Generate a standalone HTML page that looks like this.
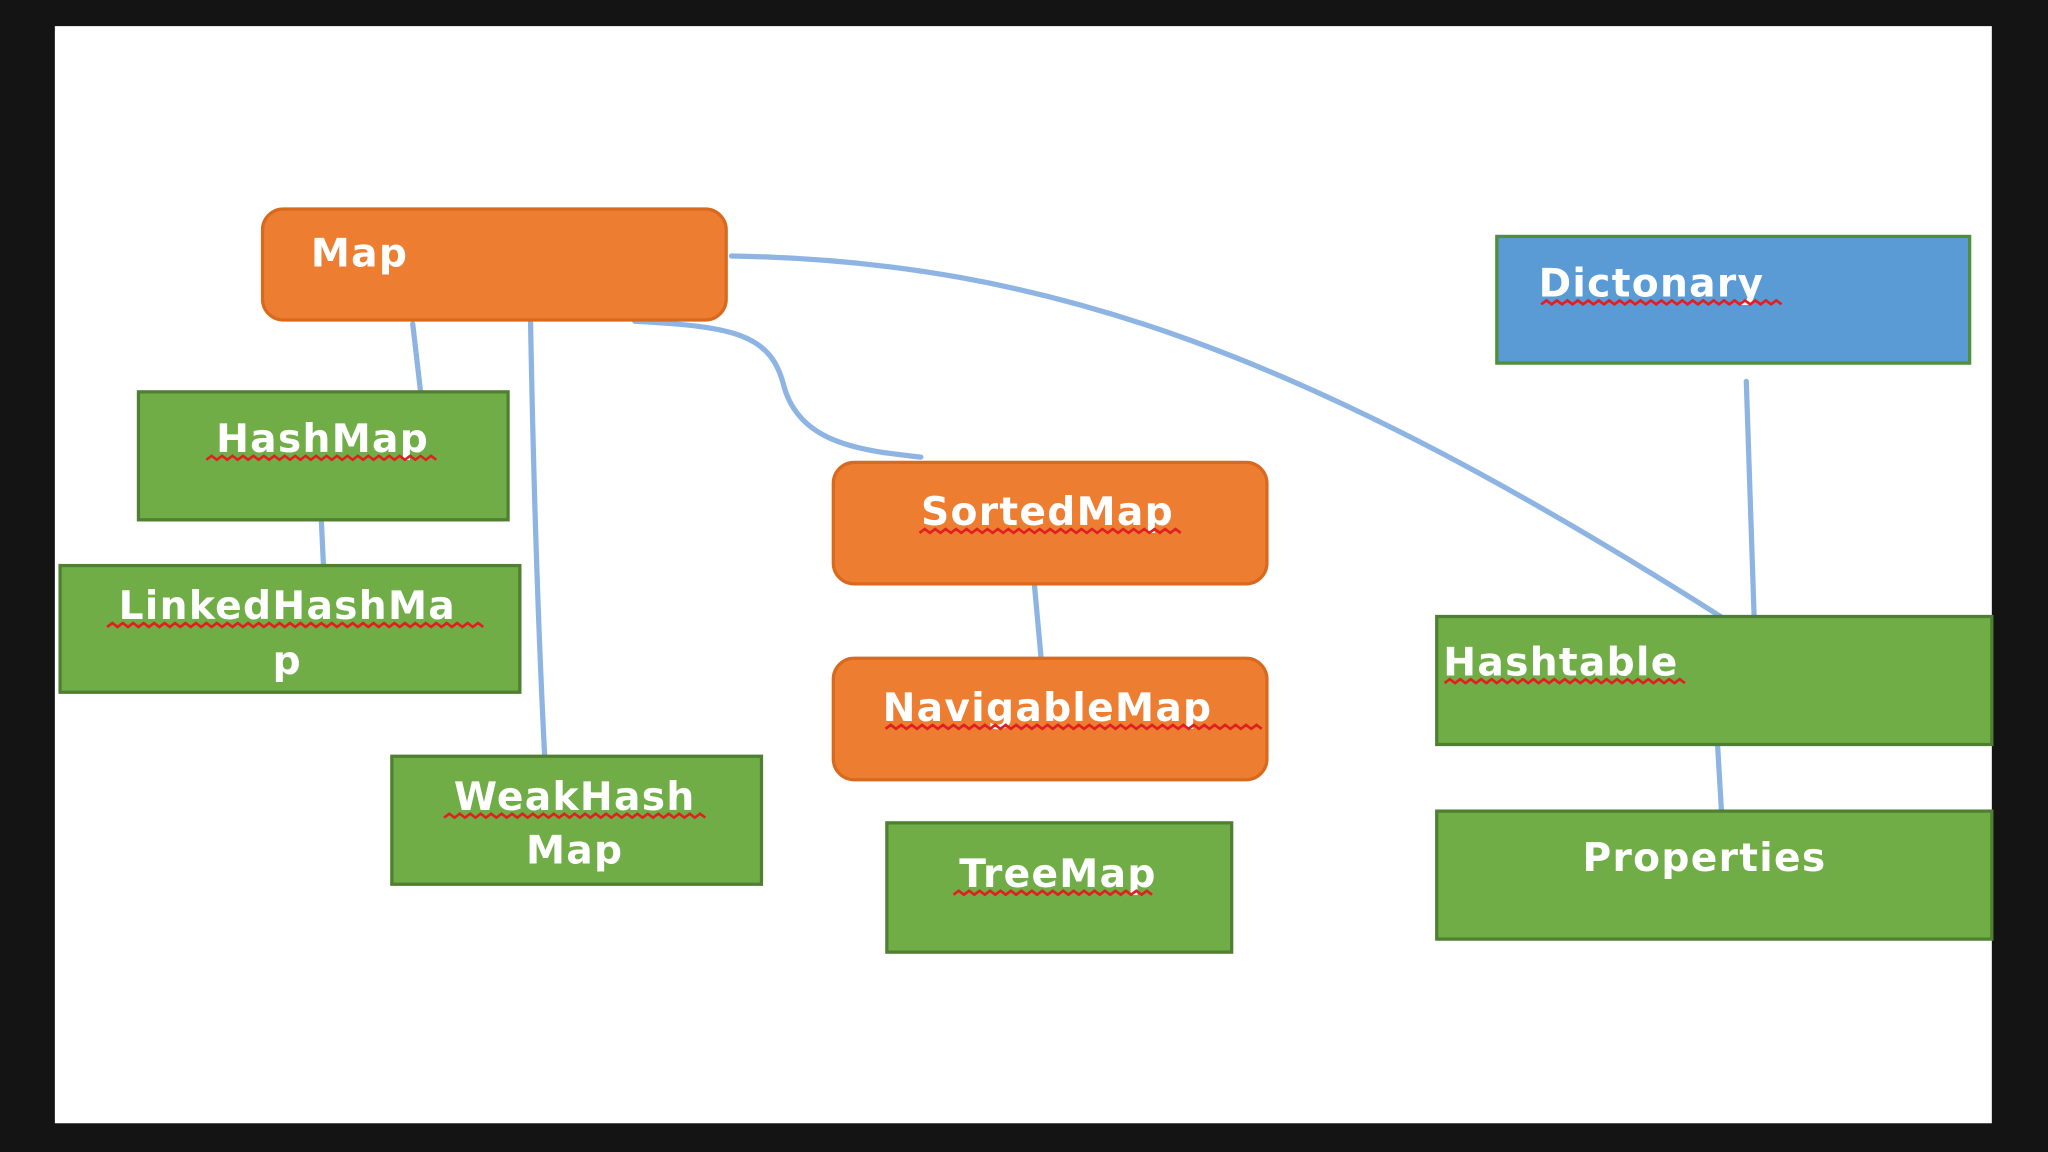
<!DOCTYPE html>
<html><head><meta charset="utf-8"><style>
html,body{margin:0;padding:0;background:#151515;}
svg{display:block}
text{font-family:"DejaVu Sans","Liberation Sans",sans-serif;fill:#fff;font-size:30px;font-weight:bold;letter-spacing:1px}
</style></head><body>
<svg width="2048" height="1152" viewBox="0 0 1568 882" xmlns="http://www.w3.org/2000/svg">
<rect x="0" y="0" width="1568" height="882" fill="#141414"/>
<rect x="42" y="20" width="1483" height="840" fill="#ffffff"/>
<g stroke="#8db4e2" stroke-width="4" fill="none" stroke-linecap="round">
<path d="M316 248 L322 300"/>
<path d="M406 235 C408 350 412 480 417 579"/>
<path d="M486 246 C560 250 590 255 600 295 C612 340 660 345 705 350"/>
<path d="M560 196 C800 200 1000 270 1322 475"/>
<path d="M246 398 L248 440"/>
<path d="M792 448 L797 503"/>
<path d="M1337 292 L1343 472"/>
<path d="M1315 570 L1318 621"/>
</g>
<g stroke-width="2.5">
<rect x="201" y="160" width="355" height="85" rx="16" fill="#ed7d31" stroke="#d9691d"/>
<rect x="638" y="354" width="332" height="93" rx="16" fill="#ed7d31" stroke="#d9691d"/>
<rect x="638" y="504" width="332" height="93" rx="16" fill="#ed7d31" stroke="#d9691d"/>
<rect x="106" y="300" width="283" height="98" fill="#70ad47" stroke="#4f7f30"/>
<rect x="46" y="433" width="352" height="97" fill="#70ad47" stroke="#4f7f30"/>
<rect x="300" y="579" width="283" height="98" fill="#70ad47" stroke="#4f7f30"/>
<rect x="679" y="630" width="264" height="99" fill="#70ad47" stroke="#4f7f30"/>
<rect x="1146" y="181" width="362" height="97" fill="#5b9bd5" stroke="#4f8f36"/>
<rect x="1100" y="472" width="425" height="98" fill="#70ad47" stroke="#4f7f30"/>
<rect x="1100" y="621" width="425" height="98" fill="#70ad47" stroke="#4f7f30"/>
</g>
<text x="238" y="204">Map</text>
<text x="247" y="346" text-anchor="middle">HashMap</text>
<text x="220" y="474" text-anchor="middle">LinkedHashMa</text>
<text x="220" y="516" text-anchor="middle">p</text>
<text x="440" y="620" text-anchor="middle">WeakHash</text>
<text x="440" y="661" text-anchor="middle">Map</text>
<text x="802" y="402" text-anchor="middle">SortedMap</text>
<text x="802" y="552" text-anchor="middle">NavigableMap</text>
<text x="810" y="679" text-anchor="middle">TreeMap</text>
<text x="1178" y="227">Dictonary</text>
<text x="1105" y="517">Hashtable</text>
<text x="1305" y="667" text-anchor="middle">Properties</text>
<g stroke="#e02020" stroke-width="2" fill="none">
<path d="M158 352 l4 -3 l4 3 l4 -3 l4 3 l4 -3 l4 3 l4 -3 l4 3 l4 -3 l4 3 l4 -3 l4 3 l4 -3 l4 3 l4 -3 l4 3 l4 -3 l4 3 l4 -3 l4 3 l4 -3 l4 3 l4 -3 l4 3 l4 -3 l4 3 l4 -3 l4 3 l4 -3 l4 3 l4 -3 l4 3 l4 -3 l4 3 l4 -3 l4 3 l4 -3 l4 3 l4 -3 l4 3 l4 -3 l4 3 l4 -3 l4 3"/>
<path d="M82 480 l4 -3 l4 3 l4 -3 l4 3 l4 -3 l4 3 l4 -3 l4 3 l4 -3 l4 3 l4 -3 l4 3 l4 -3 l4 3 l4 -3 l4 3 l4 -3 l4 3 l4 -3 l4 3 l4 -3 l4 3 l4 -3 l4 3 l4 -3 l4 3 l4 -3 l4 3 l4 -3 l4 3 l4 -3 l4 3 l4 -3 l4 3 l4 -3 l4 3 l4 -3 l4 3 l4 -3 l4 3 l4 -3 l4 3 l4 -3 l4 3 l4 -3 l4 3 l4 -3 l4 3 l4 -3 l4 3 l4 -3 l4 3 l4 -3 l4 3 l4 -3 l4 3 l4 -3 l4 3 l4 -3 l4 3 l4 -3 l4 3 l4 -3 l4 3 l4 -3 l4 3 l4 -3 l4 3 l4 -3 l4 3 l4 -3 l4 3"/>
<path d="M340 626 l4 -3 l4 3 l4 -3 l4 3 l4 -3 l4 3 l4 -3 l4 3 l4 -3 l4 3 l4 -3 l4 3 l4 -3 l4 3 l4 -3 l4 3 l4 -3 l4 3 l4 -3 l4 3 l4 -3 l4 3 l4 -3 l4 3 l4 -3 l4 3 l4 -3 l4 3 l4 -3 l4 3 l4 -3 l4 3 l4 -3 l4 3 l4 -3 l4 3 l4 -3 l4 3 l4 -3 l4 3 l4 -3 l4 3 l4 -3 l4 3 l4 -3 l4 3 l4 -3 l4 3 l4 -3 l4 3"/>
<path d="M704 408 l4 -3 l4 3 l4 -3 l4 3 l4 -3 l4 3 l4 -3 l4 3 l4 -3 l4 3 l4 -3 l4 3 l4 -3 l4 3 l4 -3 l4 3 l4 -3 l4 3 l4 -3 l4 3 l4 -3 l4 3 l4 -3 l4 3 l4 -3 l4 3 l4 -3 l4 3 l4 -3 l4 3 l4 -3 l4 3 l4 -3 l4 3 l4 -3 l4 3 l4 -3 l4 3 l4 -3 l4 3 l4 -3 l4 3 l4 -3 l4 3 l4 -3 l4 3 l4 -3 l4 3 l4 -3 l4 3"/>
<path d="M678 558 l4 -3 l4 3 l4 -3 l4 3 l4 -3 l4 3 l4 -3 l4 3 l4 -3 l4 3 l4 -3 l4 3 l4 -3 l4 3 l4 -3 l4 3 l4 -3 l4 3 l4 -3 l4 3 l4 -3 l4 3 l4 -3 l4 3 l4 -3 l4 3 l4 -3 l4 3 l4 -3 l4 3 l4 -3 l4 3 l4 -3 l4 3 l4 -3 l4 3 l4 -3 l4 3 l4 -3 l4 3 l4 -3 l4 3 l4 -3 l4 3 l4 -3 l4 3 l4 -3 l4 3 l4 -3 l4 3 l4 -3 l4 3 l4 -3 l4 3 l4 -3 l4 3 l4 -3 l4 3 l4 -3 l4 3 l4 -3 l4 3 l4 -3 l4 3 l4 -3 l4 3 l4 -3 l4 3 l4 -3 l4 3 l4 -3 l4 3"/>
<path d="M730 685 l4 -3 l4 3 l4 -3 l4 3 l4 -3 l4 3 l4 -3 l4 3 l4 -3 l4 3 l4 -3 l4 3 l4 -3 l4 3 l4 -3 l4 3 l4 -3 l4 3 l4 -3 l4 3 l4 -3 l4 3 l4 -3 l4 3 l4 -3 l4 3 l4 -3 l4 3 l4 -3 l4 3 l4 -3 l4 3 l4 -3 l4 3 l4 -3 l4 3 l4 -3 l4 3"/>
<path d="M1180 233 l4 -3 l4 3 l4 -3 l4 3 l4 -3 l4 3 l4 -3 l4 3 l4 -3 l4 3 l4 -3 l4 3 l4 -3 l4 3 l4 -3 l4 3 l4 -3 l4 3 l4 -3 l4 3 l4 -3 l4 3 l4 -3 l4 3 l4 -3 l4 3 l4 -3 l4 3 l4 -3 l4 3 l4 -3 l4 3 l4 -3 l4 3 l4 -3 l4 3 l4 -3 l4 3 l4 -3 l4 3 l4 -3 l4 3 l4 -3 l4 3 l4 -3 l4 3"/>
<path d="M1106 523 l4 -3 l4 3 l4 -3 l4 3 l4 -3 l4 3 l4 -3 l4 3 l4 -3 l4 3 l4 -3 l4 3 l4 -3 l4 3 l4 -3 l4 3 l4 -3 l4 3 l4 -3 l4 3 l4 -3 l4 3 l4 -3 l4 3 l4 -3 l4 3 l4 -3 l4 3 l4 -3 l4 3 l4 -3 l4 3 l4 -3 l4 3 l4 -3 l4 3 l4 -3 l4 3 l4 -3 l4 3 l4 -3 l4 3 l4 -3 l4 3 l4 -3 l4 3"/>
</g>
</svg>
</body></html>
